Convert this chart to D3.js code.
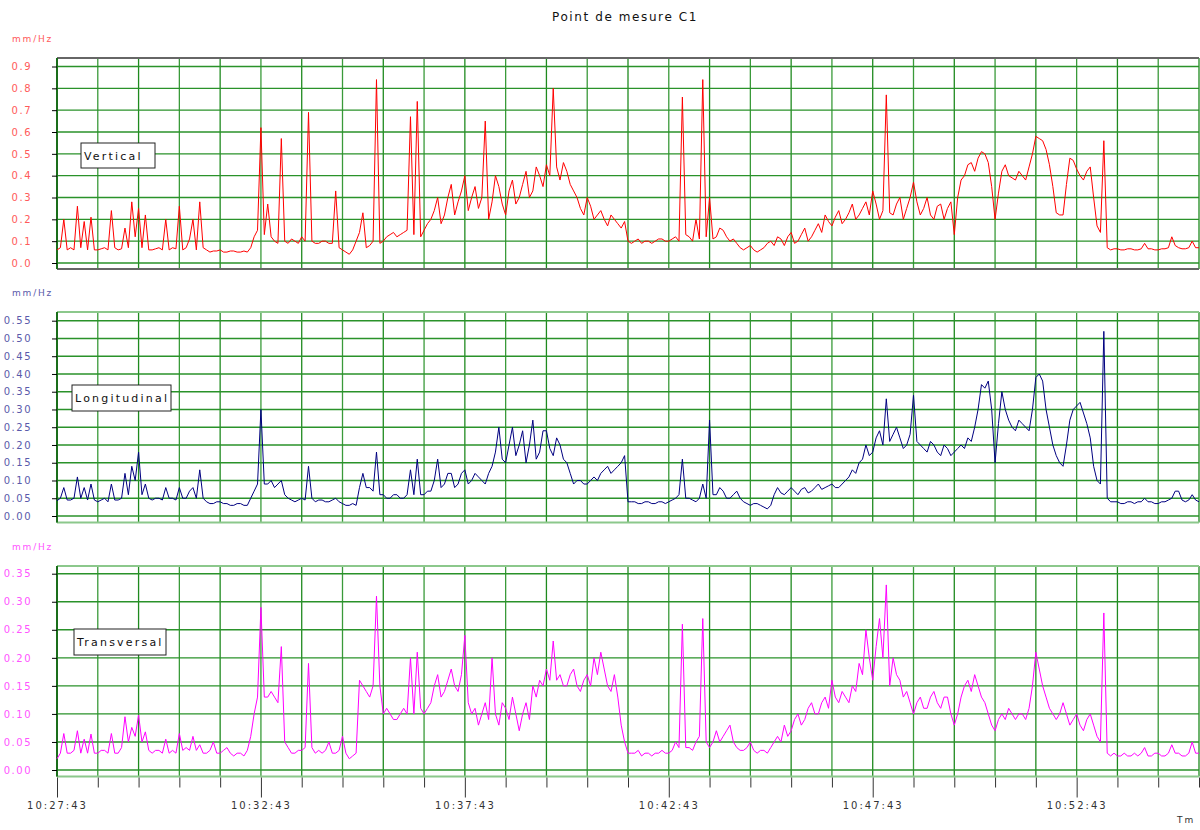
<!DOCTYPE html>
<html>
<head>
<meta charset="utf-8">
<script src="https://cdn.jsdelivr.net/npm/d3@7"></script>
<style>
  body { margin: 0; background: #fff; }
  svg { display: block; font-family: "DejaVu Sans", sans-serif; }
</style>
</head>
<body>
<svg id="chart" width="1200" height="830"></svg>
<script>
// ---- data ----
var title = "Point de mesure C1";
var unitLabel = "mm/Hz";
var timeLabel = "Tm";
var startTime = "10:27:43";
var endTime = "10:55:43";
var stepSeconds = 5;

var verticalTicks = [0.0, 0.1, 0.2, 0.3, 0.4, 0.5, 0.6, 0.7, 0.8, 0.9];
var longitudinalTicks = [0.00, 0.05, 0.10, 0.15, 0.20, 0.25, 0.30, 0.35, 0.40, 0.45, 0.50, 0.55];
var transversalTicks = [0.00, 0.05, 0.10, 0.15, 0.20, 0.25, 0.30, 0.35];

// one reading every 5 s from 10:27:43
var vertical = [
  0.06, 0.07, 0.2, 0.06, 0.07, 0.06, 0.26, 0.07, 0.19, 0.06,
  0.21, 0.06, 0.06, 0.065, 0.07, 0.06, 0.24, 0.07, 0.06, 0.065,
  0.16, 0.07, 0.28, 0.12, 0.25, 0.07, 0.22, 0.06, 0.06, 0.065,
  0.07, 0.06, 0.2, 0.06, 0.07, 0.065, 0.26, 0.06, 0.07, 0.11,
  0.2, 0.06, 0.28, 0.07, 0.06, 0.05, 0.055, 0.055, 0.06, 0.05,
  0.05, 0.055, 0.055, 0.05, 0.05, 0.055, 0.05, 0.07, 0.12, 0.15,
  0.62, 0.13, 0.27, 0.12, 0.1, 0.09, 0.57, 0.1, 0.09, 0.11,
  0.1, 0.09, 0.12, 0.1, 0.69, 0.1, 0.09, 0.09, 0.1, 0.1,
  0.09, 0.09, 0.33, 0.07, 0.06, 0.05, 0.04, 0.06, 0.1, 0.14,
  0.23, 0.07, 0.08, 0.1, 0.84, 0.09, 0.1, 0.12, 0.13, 0.14,
  0.12, 0.13, 0.14, 0.15, 0.67, 0.13, 0.74, 0.12, 0.15, 0.18,
  0.2, 0.24, 0.3, 0.18, 0.22, 0.3, 0.36, 0.22, 0.28, 0.33,
  0.4, 0.24, 0.3, 0.35, 0.25, 0.3, 0.65, 0.2, 0.28, 0.4,
  0.35, 0.27, 0.22, 0.33, 0.38, 0.27, 0.3, 0.36, 0.42, 0.3,
  0.33, 0.44, 0.4, 0.35, 0.45, 0.4, 0.8, 0.44, 0.38, 0.46,
  0.42, 0.36, 0.33, 0.3, 0.25, 0.22, 0.3, 0.26, 0.2, 0.22,
  0.24, 0.2, 0.17, 0.22, 0.2, 0.18, 0.16, 0.19, 0.1, 0.09,
  0.1, 0.11, 0.09, 0.1, 0.1, 0.09, 0.1, 0.11, 0.11, 0.1,
  0.1, 0.11, 0.12, 0.1, 0.76, 0.13, 0.12, 0.1, 0.2, 0.11,
  0.84, 0.12, 0.3, 0.11, 0.12, 0.16, 0.15, 0.12, 0.1, 0.11,
  0.09, 0.07, 0.06, 0.07, 0.08, 0.06, 0.05, 0.06, 0.07, 0.09,
  0.1, 0.08, 0.12, 0.11, 0.08, 0.12, 0.14, 0.09, 0.1, 0.13,
  0.16, 0.1, 0.12, 0.15, 0.18, 0.14, 0.22, 0.19, 0.17, 0.21,
  0.24, 0.18, 0.2, 0.23, 0.27, 0.2, 0.22, 0.25, 0.28, 0.22,
  0.33, 0.27, 0.2, 0.24, 0.77, 0.23, 0.22, 0.27, 0.3, 0.2,
  0.25, 0.3, 0.37, 0.28, 0.22, 0.25, 0.3, 0.22, 0.2, 0.26,
  0.27, 0.2, 0.25, 0.28, 0.13, 0.3, 0.38, 0.4, 0.45, 0.46,
  0.42, 0.48, 0.51, 0.5, 0.46, 0.35, 0.2, 0.32, 0.42, 0.45,
  0.4, 0.39, 0.38, 0.42, 0.4, 0.38, 0.44, 0.5, 0.58, 0.57,
  0.56, 0.52, 0.45, 0.35, 0.23, 0.22, 0.22, 0.36, 0.48, 0.47,
  0.43, 0.4, 0.38, 0.42, 0.44, 0.3, 0.17, 0.14, 0.56, 0.07,
  0.06, 0.065, 0.065, 0.06, 0.06, 0.065, 0.065, 0.06, 0.06, 0.065,
  0.09, 0.065, 0.065, 0.06, 0.06, 0.065, 0.065, 0.07, 0.12, 0.08,
  0.07, 0.065, 0.065, 0.07, 0.1, 0.07, 0.07
];

var longitudinal = [
  0.043, 0.05, 0.08, 0.045, 0.045, 0.05, 0.11, 0.05, 0.08, 0.045,
  0.09, 0.045, 0.04, 0.045, 0.05, 0.04, 0.09, 0.045, 0.045, 0.05,
  0.12, 0.06, 0.14, 0.1, 0.18, 0.06, 0.09, 0.05, 0.045, 0.05,
  0.05, 0.045, 0.08, 0.05, 0.05, 0.045, 0.08, 0.05, 0.05, 0.07,
  0.08, 0.05, 0.13, 0.05, 0.04, 0.035, 0.035, 0.04, 0.04, 0.035,
  0.035, 0.03, 0.03, 0.035, 0.035, 0.03, 0.03, 0.05, 0.07, 0.09,
  0.3, 0.09, 0.09, 0.1, 0.08, 0.09, 0.1, 0.06, 0.05, 0.045,
  0.04, 0.045, 0.05, 0.045, 0.14, 0.05, 0.04, 0.045, 0.045, 0.04,
  0.04, 0.045, 0.05, 0.04, 0.035, 0.03, 0.03, 0.035, 0.03, 0.08,
  0.12, 0.08, 0.08, 0.07, 0.18, 0.06, 0.06, 0.05, 0.05, 0.06,
  0.06, 0.05, 0.05, 0.06, 0.13, 0.06, 0.16, 0.06, 0.06, 0.07,
  0.07, 0.1, 0.16, 0.08, 0.09, 0.12, 0.12, 0.08, 0.09, 0.12,
  0.13, 0.09, 0.1, 0.12, 0.11, 0.1, 0.09, 0.12, 0.14, 0.18,
  0.25, 0.16, 0.15, 0.2, 0.25, 0.17, 0.2, 0.24, 0.15, 0.2,
  0.27, 0.16, 0.18, 0.24, 0.24, 0.19, 0.17, 0.22, 0.2, 0.16,
  0.15, 0.12, 0.09, 0.1, 0.1, 0.09, 0.09, 0.1, 0.11, 0.1,
  0.12, 0.13, 0.14, 0.12, 0.13, 0.14, 0.15, 0.17, 0.04, 0.04,
  0.04, 0.035, 0.035, 0.04, 0.04, 0.035, 0.035, 0.04, 0.04, 0.035,
  0.04, 0.045, 0.05, 0.06, 0.16, 0.05, 0.05, 0.045, 0.04, 0.05,
  0.09, 0.05, 0.27, 0.06, 0.06, 0.08, 0.07, 0.05, 0.05, 0.06,
  0.07, 0.05, 0.04, 0.035, 0.03, 0.035, 0.035, 0.03, 0.025, 0.02,
  0.03, 0.06, 0.08, 0.065, 0.06, 0.07, 0.08, 0.07, 0.06, 0.075,
  0.08, 0.065, 0.07, 0.08, 0.09, 0.075, 0.08, 0.085, 0.09, 0.08,
  0.08, 0.09, 0.1, 0.11, 0.13, 0.12, 0.15, 0.16, 0.2, 0.17,
  0.18, 0.22, 0.24, 0.2, 0.33, 0.21, 0.23, 0.25, 0.22, 0.19,
  0.2, 0.23, 0.34, 0.21, 0.2, 0.19, 0.18, 0.21, 0.2, 0.18,
  0.17, 0.2, 0.19, 0.17, 0.18, 0.19, 0.2, 0.19, 0.22, 0.21,
  0.25, 0.3, 0.37, 0.36, 0.38, 0.3, 0.15, 0.26, 0.35, 0.3,
  0.27, 0.25, 0.24, 0.27, 0.26, 0.25, 0.24, 0.3, 0.39, 0.4,
  0.38, 0.3, 0.25, 0.2, 0.17, 0.15, 0.14, 0.2, 0.27, 0.3,
  0.31, 0.32, 0.29, 0.26, 0.22, 0.14, 0.1, 0.09, 0.52, 0.05,
  0.04, 0.04, 0.04, 0.035, 0.035, 0.04, 0.04, 0.035, 0.04, 0.04,
  0.05, 0.04, 0.04, 0.035, 0.035, 0.04, 0.04, 0.045, 0.05, 0.07,
  0.07, 0.045, 0.04, 0.045, 0.06, 0.045, 0.04
];

var transversal = [
  0.02, 0.03, 0.065, 0.03, 0.03, 0.035, 0.07, 0.03, 0.055, 0.03,
  0.064, 0.03, 0.03, 0.035, 0.035, 0.03, 0.065, 0.03, 0.03, 0.04,
  0.095, 0.05, 0.076, 0.06, 0.098, 0.05, 0.068, 0.035, 0.03, 0.035,
  0.035, 0.03, 0.055, 0.03, 0.035, 0.03, 0.065, 0.035, 0.04, 0.035,
  0.06, 0.035, 0.045, 0.03, 0.03, 0.035, 0.05, 0.03, 0.03, 0.035,
  0.04, 0.03, 0.025, 0.03, 0.03, 0.025, 0.035, 0.06, 0.1, 0.13,
  0.29, 0.13, 0.13, 0.14, 0.13, 0.12, 0.22, 0.05, 0.04, 0.03,
  0.03, 0.035, 0.035, 0.04, 0.19, 0.04, 0.03, 0.035, 0.03, 0.035,
  0.05, 0.03, 0.03, 0.035, 0.06, 0.03, 0.02, 0.025, 0.03, 0.16,
  0.15, 0.14, 0.13, 0.15, 0.31, 0.15, 0.1, 0.11, 0.1, 0.09,
  0.09, 0.1, 0.11, 0.1, 0.2, 0.1, 0.21, 0.11, 0.1, 0.11,
  0.12, 0.15, 0.17, 0.13, 0.14, 0.16, 0.18, 0.15, 0.14, 0.17,
  0.24, 0.12, 0.1, 0.11, 0.08, 0.1, 0.12, 0.09, 0.2, 0.1,
  0.08, 0.12, 0.11, 0.09, 0.13, 0.1, 0.07, 0.1, 0.12, 0.09,
  0.15, 0.13, 0.16, 0.15, 0.18, 0.16, 0.23, 0.16, 0.17, 0.15,
  0.15, 0.17, 0.18, 0.15, 0.14, 0.16, 0.17, 0.15, 0.2, 0.17,
  0.21, 0.18, 0.15, 0.14, 0.17, 0.13, 0.08, 0.05, 0.03, 0.03,
  0.03, 0.035, 0.025, 0.03, 0.03, 0.025, 0.03, 0.03, 0.035, 0.03,
  0.03, 0.035, 0.05, 0.04, 0.26, 0.04, 0.04, 0.035, 0.05, 0.06,
  0.27, 0.05, 0.04, 0.05, 0.07, 0.05, 0.06, 0.07, 0.08, 0.05,
  0.04, 0.035, 0.035, 0.04, 0.05, 0.035, 0.03, 0.035, 0.035, 0.03,
  0.04, 0.05, 0.06, 0.05, 0.08, 0.06, 0.07, 0.09, 0.1, 0.08,
  0.09, 0.11, 0.12, 0.1, 0.1, 0.12, 0.13, 0.11, 0.16, 0.13,
  0.12, 0.14, 0.13, 0.12, 0.15, 0.14, 0.19, 0.17, 0.25, 0.2,
  0.16, 0.22, 0.27, 0.2, 0.33, 0.15, 0.2, 0.17, 0.16, 0.13,
  0.14, 0.12, 0.1, 0.12, 0.13, 0.11, 0.11, 0.13, 0.14, 0.12,
  0.11, 0.13, 0.13, 0.1, 0.08, 0.1, 0.13, 0.15, 0.16, 0.14,
  0.17, 0.15, 0.13, 0.12, 0.1, 0.08, 0.07, 0.09, 0.1, 0.09,
  0.11, 0.1, 0.09, 0.1, 0.1, 0.09, 0.11, 0.15, 0.21, 0.18,
  0.15, 0.13, 0.11, 0.1, 0.09, 0.1, 0.12, 0.1, 0.08, 0.09,
  0.1, 0.08, 0.07, 0.09, 0.1, 0.08, 0.06, 0.05, 0.28, 0.03,
  0.025, 0.03, 0.025, 0.025, 0.03, 0.025, 0.025, 0.03, 0.025, 0.03,
  0.04, 0.025, 0.025, 0.03, 0.03, 0.025, 0.025, 0.03, 0.045, 0.03,
  0.03, 0.025, 0.025, 0.03, 0.05, 0.03, 0.03
];

var panels = [
  {name: "Vertical", values: vertical, ticks: verticalTicks, fmt: ".1f", color: "#ff0000", label: "#ff5a5a",
   top: 58, bottom: 269, v0: 263, vTop: 0.9, yTop: 66.5, border: "#666", unitY: 42,
   box: {x: 81, y: 143, w: 74, h: 25}},
  {name: "Longitudinal", values: longitudinal, ticks: longitudinalTicks, fmt: ".2f", color: "#000080", label: "#5a5aaa",
   top: 312, bottom: 522.5, v0: 516, vTop: 0.55, yTop: 320.7, border: "#8cc88c", unitY: 296,
   box: {x: 72, y: 385, w: 99, h: 26}},
  {name: "Transversal", values: transversal, ticks: transversalTicks, fmt: ".2f", color: "#ff00ff", label: "#ff55ff",
   top: 566, bottom: 776.5, v0: 770, vTop: 0.35, yTop: 573.7, border: "#8cc88c", unitY: 550,
   box: {x: 74, y: 629, w: 92, h: 26}}
];

// ---- scales ----
var svg = d3.select("#chart");
var parseT = d3.timeParse("%H:%M:%S");
var t0 = parseT(startTime), t1 = parseT(endTime);
var left = 57, right = 1199;

var x = d3.scaleTime().domain([t0, t1]).range([left, right]);

var minuteTicks = d3.range(0, 29).map(function(m) { return d3.timeMinute.offset(t0, m); });
var fmtTime = d3.timeFormat("%H:%M:%S");

function timeAt(i) { return d3.timeSecond.offset(t0, i * stepSeconds); }

svg.append("text")
    .attr("x", 625)
    .attr("y", 21)
    .attr("text-anchor", "middle")
    .attr("font-size", 12)
    .attr("letter-spacing", 1.6)
    .attr("fill", "#111")
    .text(title);

panels.forEach(function(p) {
  // value -> pixel, anchored on 0 and the top tick as in the picture
  var pxPerUnit = (p.v0 - p.yTop) / p.vTop;
  var y = d3.scaleLinear()
      .domain([(p.v0 - p.bottom) / pxPerUnit, (p.v0 - p.top) / pxPerUnit])
      .range([p.bottom, p.top]);

  var g = svg.append("g");

  // grid
  g.append("g").selectAll("line")
    .data(minuteTicks)
    .enter().append("line")
      .attr("x1", function(d) { return x(d); })
      .attr("x2", function(d) { return x(d); })
      .attr("y1", p.top)
      .attr("y2", p.bottom)
      .attr("stroke", function(d, i) { return i % 2 ? "#3a9a3a" : "#1f8a1f"; })
      .attr("stroke-width", 1.3);

  g.append("g").selectAll("line")
    .data(p.ticks)
    .enter().append("line")
      .attr("x1", left)
      .attr("x2", right)
      .attr("y1", function(d) { return y(d); })
      .attr("y2", function(d) { return y(d); })
      .attr("stroke", "#2a922a")
      .attr("stroke-width", 1.4);

  // borders
  g.append("line").attr("x1", left).attr("x2", right).attr("y1", p.top).attr("y2", p.top)
      .attr("stroke", p.border).attr("stroke-width", 2);
  g.append("line").attr("x1", left).attr("x2", right).attr("y1", p.bottom).attr("y2", p.bottom)
      .attr("stroke", p.border).attr("stroke-width", 2);
  g.append("line").attr("x1", left).attr("x2", left).attr("y1", p.top).attr("y2", p.bottom)
      .attr("stroke", "#1a6e1a").attr("stroke-width", 2);

  // y axis
  var ax = g.append("g")
      .attr("transform", "translate(" + left + ",0)")
      .call(d3.axisLeft(y).tickValues(p.ticks).tickFormat(d3.format(p.fmt)).tickSize(5).tickPadding(20));
  ax.select(".domain").remove();
  ax.selectAll(".tick line").attr("stroke", "#000");
  ax.selectAll(".tick text")
      .attr("fill", p.label)
      .attr("font-size", 10)
      .attr("letter-spacing", 1.5)
      .attr("font-family", "DejaVu Sans, sans-serif");

  g.append("text")
      .attr("x", 12)
      .attr("y", p.unitY)
      .attr("font-size", 9)
      .attr("letter-spacing", 1.8)
      .attr("fill", p.label)
      .text(unitLabel);

  // series
  var line = d3.line()
      .x(function(d, i) { return x(timeAt(i)); })
      .y(function(d) { return y(d); });

  g.append("path")
      .datum(p.values)
      .attr("fill", "none")
      .attr("stroke", p.color)
      .attr("stroke-width", 1)
      .attr("stroke-linejoin", "round")
      .attr("d", line);

  // legend box
  g.append("rect")
      .attr("x", p.box.x)
      .attr("y", p.box.y)
      .attr("width", p.box.w)
      .attr("height", p.box.h)
      .attr("fill", "#fff")
      .attr("stroke", "#222")
      .attr("stroke-width", 1);

  g.append("text")
      .attr("x", p.box.x + 3)
      .attr("y", p.box.y + p.box.h / 2 + 4)
      .attr("font-size", 11)
      .attr("letter-spacing", 2.2)
      .attr("fill", "#111")
      .text(p.name);
});

// time axis under the last panel
var last = panels[panels.length - 1];
var xa = svg.append("g")
    .attr("transform", "translate(0," + (last.bottom + 1) + ")")
    .call(d3.axisBottom(x).tickValues(minuteTicks).tickSize(10)
      .tickFormat(function(d, i) { return i % 5 === 0 && i < 28 ? fmtTime(d) : ""; }));
xa.select(".domain").remove();
xa.selectAll(".tick line")
    .attr("stroke", "#333")
    .attr("y2", function(d, i) { return i % 5 === 0 ? 20 : 10; });
xa.selectAll(".tick text")
    .attr("y", 24)
    .attr("font-size", 10)
    .attr("letter-spacing", 2)
    .attr("fill", "#333")
    .attr("font-family", "DejaVu Sans, sans-serif");

svg.append("text")
    .attr("x", 1177)
    .attr("y", 823)
    .attr("font-size", 9)
    .attr("letter-spacing", 2)
    .attr("fill", "#333")
    .text(timeLabel);
</script>
</body>
</html>
